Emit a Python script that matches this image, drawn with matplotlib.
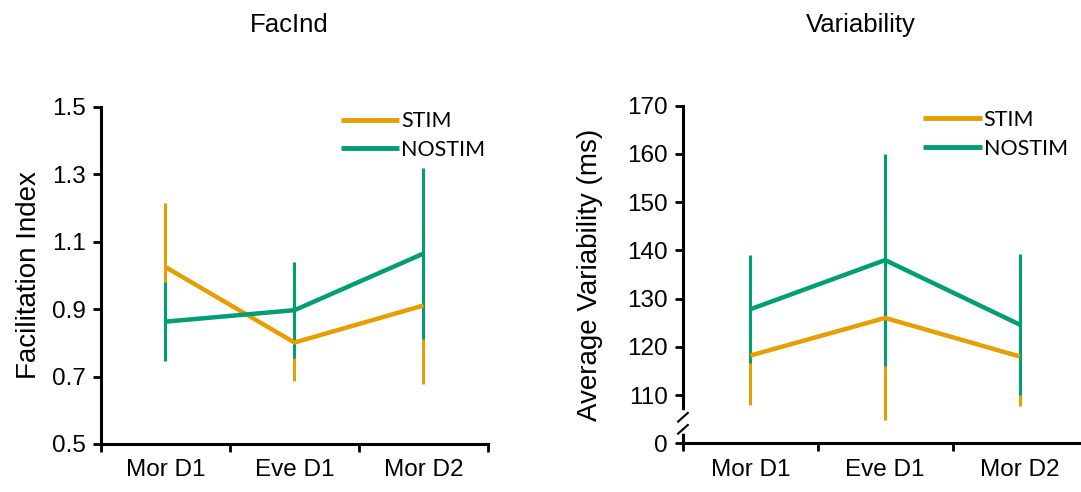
import matplotlib.pyplot as plt
import numpy as np

sessions = ['Mor D1', 'Eve D1', 'Mor D2']

# facilitation index
fac_stim = [1.025, 0.801, 0.911]
fac_stim_err = [0.19, 0.113, 0.234]
fac_nostim = [0.863, 0.897, 1.065]
fac_nostim_err = [0.118, 0.142, 0.253]

# variability (ms)
var_stim = [118.2, 126.0, 118.0]
var_stim_err = [10.2, 21.1, 10.3]
var_nostim = [127.8, 138.0, 124.6]
var_nostim_err = [11.2, 21.9, 14.6]

orange = '#E69F00'
green = '#009E73'
tick_font = 'Liberation Sans'
leg_font = 'Lato'

fig = plt.figure(figsize=(10.81, 4.92), dpi=100)
ax1 = fig.add_axes([0.0934, 0.0976, 0.358, 0.685])
ax2 = fig.add_axes([0.6318, 0.099, 0.374, 0.686])

x = np.arange(len(sessions)) + 0.5


def draw(ax, stim, stim_err, nostim, nostim_err, leg_x):
    ax.errorbar(x, stim, yerr=stim_err, fmt='none', ecolor=orange, elinewidth=2.2, capsize=0, zorder=2)
    ax.errorbar(x, nostim, yerr=nostim_err, fmt='none', ecolor=green, elinewidth=2.2, capsize=0, zorder=3)
    ax.plot(x, stim, color=orange, lw=3.2, label='STIM', zorder=4, solid_capstyle='butt')
    ax.plot(x, nostim, color=green, lw=3.2, label='NOSTIM', zorder=5, solid_capstyle='butt')
    ax.set_xlim(0, 3)
    ax.set_xticks([0, 1, 2, 3])
    ax.set_xticklabels([])
    ax.set_xticks(x, minor=True)
    ax.set_xticklabels(sessions, minor=True, fontsize=17.5, family=tick_font)
    ax.tick_params(axis='x', which='major', direction='out', length=6, width=2)
    ax.tick_params(axis='x', which='minor', length=0, pad=11)
    ax.tick_params(axis='y', direction='out', length=6, width=2, labelsize=17.5, pad=5)
    for s in ['top', 'right']:
        ax.spines[s].set_visible(False)
    for s in ['left', 'bottom']:
        ax.spines[s].set_linewidth(2.2)
    leg = ax.legend(loc='upper right', bbox_to_anchor=(leg_x, 1.045), frameon=False,
                    handlelength=2.7, handletextpad=0.1, labelspacing=0.4,
                    prop={'family': leg_font, 'size': 15.5})
    for h in leg.get_lines():
        h.set_linewidth(3.5)


draw(ax1, fac_stim, fac_stim_err, fac_nostim, fac_nostim_err, 1.044)
ax1.set_ylim(0.5, 1.5)
ax1.set_yticks([0.5, 0.7, 0.9, 1.1, 1.3, 1.5])
ax1.set_yticklabels(['0.5', '0.7', '0.9', '1.1', '1.3', '1.5'], family=tick_font)
ax1.set_ylabel('Facilitation Index', fontsize=20, family=tick_font, labelpad=7)

draw(ax2, var_stim, var_stim_err, var_nostim, var_nostim_err, 1.0)
ax2.set_ylim(100, 170)
ax2.set_yticks([100, 110, 120, 130, 140, 150, 160, 170])
ax2.set_yticklabels(['0', '110', '120', '130', '140', '150', '160', '170'], family=tick_font)
ax2.set_ylabel('Average Variability (ms)', fontsize=20, family=tick_font, labelpad=17)

# axis break marks on the variability y axis
ax2.plot([0, 0], [102.6, 106.2], color='white', lw=4, clip_on=False, zorder=6,
         transform=ax2.get_yaxis_transform())
for yb in [102.9, 105.4]:
    ax2.plot([-0.012, 0.012], [yb - 0.9, yb + 0.9], color='black', lw=1.5, clip_on=False, zorder=7,
             transform=ax2.get_yaxis_transform())

fig.text(0.268, 0.949, 'FacInd', ha='center', va='center', fontsize=18.5, family=tick_font)
fig.text(0.796, 0.949, 'Variability', ha='center', va='center', fontsize=18.5, family=tick_font)

fig.savefig('out.png', dpi=100)
